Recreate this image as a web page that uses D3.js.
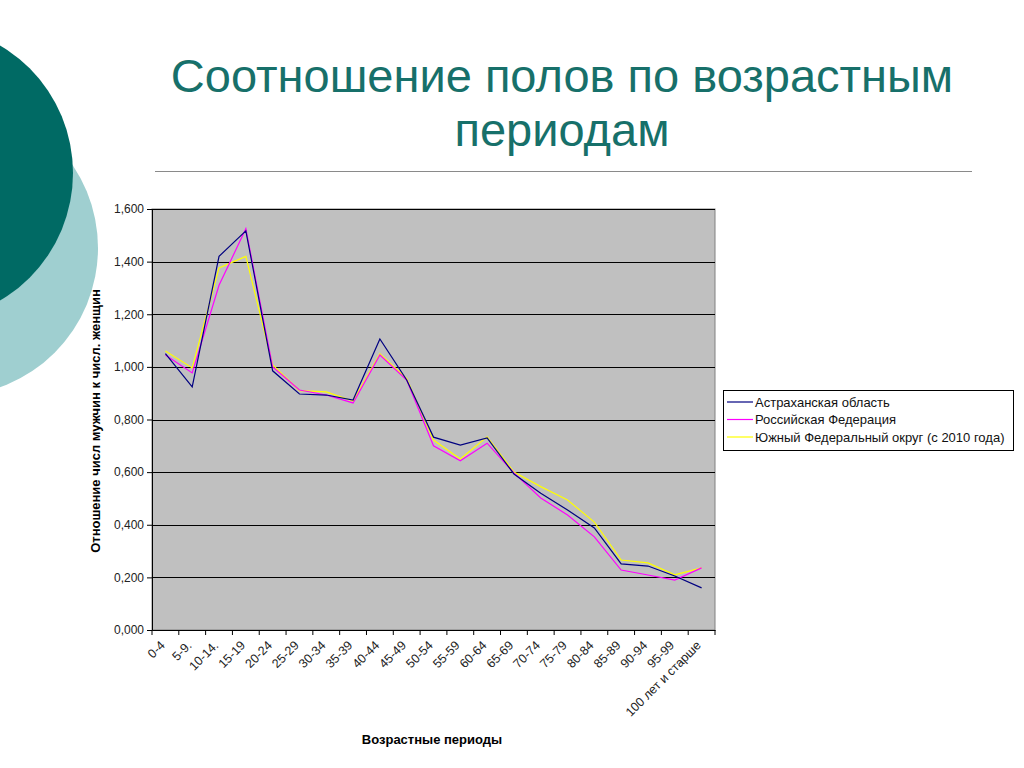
<!DOCTYPE html>
<html><head><meta charset="utf-8">
<script src="https://cdn.jsdelivr.net/npm/d3@7"></script>
<style>body{margin:0;background:#fff;overflow:hidden}svg{display:block}</style>
</head><body>
<svg id="c" width="1024" height="768"></svg>
<script>
const categories = ["0-4","5-9.","10-14.","15-19","20-24","25-29","30-34","35-39","40-44","45-49","50-54","55-59","60-64","65-69","70-74","75-79","80-84","85-89","90-94","95-99","100 лет и старше"];
const astrakhan = [1.05,0.924,1.42,1.517,0.985,0.897,0.893,0.874,1.106,0.95,0.733,0.703,0.73,0.593,0.52,0.456,0.388,0.251,0.243,0.205,0.16];
const russia   = [1.045,0.977,1.31,1.525,1.0,0.912,0.893,0.863,1.045,0.95,0.70,0.643,0.71,0.597,0.502,0.437,0.354,0.228,0.209,0.19,0.236];
const south    = [1.06,0.996,1.376,1.42,1.007,0.91,0.905,0.87,1.05,0.955,0.722,0.65,0.734,0.60,0.545,0.494,0.41,0.266,0.255,0.21,0.236];
const seriesNames = ["Астраханская область","Российская Федерация","Южный Федеральный округ (с 2010 года)"];
const yTicks = [0,0.2,0.4,0.6,0.8,1.0,1.2,1.4,1.6];

const svg = d3.select("#c");
// decorative circles
svg.append("circle").attr("cx",-50).attr("cy",248).attr("r",148).attr("fill","#9fcfd0");
svg.append("circle").attr("cx",-75).attr("cy",173).attr("r",148).attr("fill","#006a64");

// title
const title = svg.append("text").attr("text-anchor","middle").attr("fill","#17706a")
  .style("font-family","Arial, 'Liberation Sans', sans-serif").style("font-size","47px");
title.append("tspan").attr("x",562).attr("y",92).text("Соотношение полов по возрастным");
title.append("tspan").attr("x",562).attr("y",146).text("периодам");
svg.append("line").attr("x1",155).attr("x2",972).attr("y1",171.5).attr("y2",171.5).attr("stroke","#8a8a8a").attr("stroke-width",1);

const L=152, R=715, T=209, B=630;
const x = d3.scaleBand().domain(categories).range([L,R]);
const y = d3.scaleLinear().domain([0,1.6]).range([B,T]);
const font = "Arial, 'Liberation Sans', sans-serif";

svg.append("rect").attr("x",L).attr("y",T).attr("width",R-L).attr("height",B-T).attr("fill","#c0c0c0").attr("stroke","#808080");
// gridlines
svg.append("g").selectAll("line").data(yTicks.filter(d=>d>0)).join("line")
  .attr("x1",L).attr("x2",R).attr("y1",d=>Math.round(y(d))+0.5).attr("y2",d=>Math.round(y(d))+0.5)
  .attr("stroke","#000").attr("stroke-width",1);

// y axis
const fmt = d => d3.format(".3f")(d).replace(".", ",");
const yAx = svg.append("g").attr("transform",`translate(${L},0)`)
  .call(d3.axisLeft(y).tickValues(yTicks).tickFormat(fmt).tickSize(5).tickPadding(3));
yAx.select(".domain").attr("stroke","#000");
yAx.selectAll("text").style("font-family",font).style("font-size","12px").attr("fill","#222");

// x axis
const xAx = svg.append("g").attr("transform",`translate(0,${B})`)
  .call(d3.axisBottom(x).tickSize(0).tickFormat(""));
xAx.select(".domain").attr("stroke","#000");
svg.append("g").selectAll("line").data(categories).join("line")
  .attr("x1",d=>x(d)).attr("x2",d=>x(d)).attr("y1",B).attr("y2",B+5).attr("stroke","#000");
svg.append("line").attr("x1",R).attr("x2",R).attr("y1",B).attr("y2",B+5).attr("stroke","#000");
svg.append("g").selectAll("text").data(categories).join("text")
  .attr("transform",d=>`translate(${x(d)+x.bandwidth()/2-6},${B+10}) rotate(-45)`)
  .attr("text-anchor","end").attr("dy","0.7em")
  .style("font-family",font).style("font-size","12.5px").attr("fill","#222").text(d=>d);

// lines
const colors = ["#000080","#ff00ff","#ffff00"];
const data = [astrakhan, russia, south];
const line = d3.line().x((d,i)=>x(categories[i])+x.bandwidth()/2).y(d=>y(d));
[2,1,0].forEach(k=>{
  svg.append("path").datum(data[k]).attr("d",line).attr("fill","none").attr("stroke",colors[k]).attr("stroke-width",1.2);
});

// axis titles
svg.append("text").attr("transform","translate(100,421) rotate(-90)").attr("text-anchor","middle")
  .style("font-family",font).style("font-size","13px").style("font-weight","bold").text("Отношение числ мужчин к числ. женщин");
svg.append("text").attr("x",432).attr("y",744).attr("text-anchor","middle")
  .style("font-family",font).style("font-size","13px").style("font-weight","bold").text("Возрастные периоды");

// legend
const lg = svg.append("g");
lg.append("rect").attr("x",723.5).attr("y",390.5).attr("width",290).attr("height",60).attr("fill","#fff").attr("stroke","#000");
seriesNames.forEach((n,i)=>{
  const yy = 402 + i*17.5;
  lg.append("line").attr("x1",727).attr("x2",753).attr("y1",yy).attr("y2",yy).attr("stroke",colors[i]).attr("stroke-width",1.2);
  lg.append("text").attr("x",755).attr("y",yy+4.5).style("font-family",font).style("font-size","13px").attr("fill","#111").text(n);
});
</script>
</body></html>
